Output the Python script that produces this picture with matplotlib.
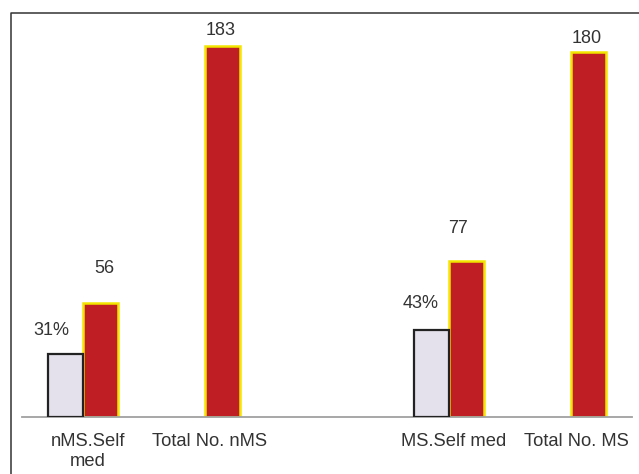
import numpy as np
import matplotlib
matplotlib.use("Agg")
import matplotlib.pyplot as plt
import matplotlib.transforms as mtransforms
from matplotlib.lines import Line2D

plt.rcParams['font.family'] = ['Liberation Sans', 'DejaVu Sans']

# categories along the x axis (the empty one is a spacer between the two groups)
categories = ["nMS.Self\nmed", "Total No. nMS", "", "MS.Self med", "Total No. MS"]
pct_self_med = [31, np.nan, np.nan, 43, np.nan]
counts = [56, 183, np.nan, 77, 180]

W, H = 639, 474
fig = plt.figure(figsize=(W / 100, H / 100), dpi=100)
ax = fig.add_axes([22 / W, (H - 416.7) / H, 610 / W, 404.7 / H])

x = np.arange(len(categories))
bw = 0.287

ax.bar(x + bw / 2, counts, bw, color='#be1e24', edgecolor='#f2e600',
       linewidth=1.8, zorder=2)
ax.bar(x - bw / 2, pct_self_med, bw, color='#e4e0ec', edgecolor='#222222',
       linewidth=1.6, zorder=3)

# value labels, nudged by hand (pixels)
txt = dict(ha='center', va='bottom', fontsize=13, color='#333333')
pct_off = {0: (-14, 15), 3: (-11, 18)}
cnt_off = {0: (4, 26), 1: (-2, 7), 3: (-9, 24), 4: (-2, 5)}
for i, v in enumerate(pct_self_med):
    if not np.isnan(v):
        dx, dy = pct_off[i]
        ax.annotate(f"{v:g}%", (x[i] - bw / 2, v), xytext=(dx * 0.72, dy * 0.72),
                    textcoords='offset points', **txt)
for i, v in enumerate(counts):
    if not np.isnan(v):
        dx, dy = cnt_off[i]
        ax.annotate(f"{v:g}", (x[i] + bw / 2, v), xytext=(dx * 0.72, dy * 0.72),
                    textcoords='offset points', **txt)

ax.set_xlim(-0.5, len(categories) - 0.5)
ax.set_ylim(0, 200)
ax.set_xticks(x)
ax.set_xticklabels(categories, fontsize=13.2, color='#333333', linespacing=1.2)
ax.tick_params(axis='x', length=0, pad=12)
# category labels sit a little right of the tick
shift = mtransforms.ScaledTranslation(5 / 100, 0, fig.dpi_scale_trans)
for lbl in ax.get_xticklabels():
    lbl.set_transform(lbl.get_transform() + shift)
ax.set_yticks([])
for s in ['top', 'right', 'left']:
    ax.spines[s].set_visible(False)
ax.spines['bottom'].set_color('#a0a0a0')
ax.spines['bottom'].set_linewidth(1.3)

# outer frame on the left and top
fx, fy = 10.5 / W, 1 - 12.5 / H
fig.add_artist(Line2D([fx, fx, 1.0], [0.0, fy, fy], color='#333333', lw=1.1,
                      transform=fig.transFigure))

fig.savefig("out.png", dpi=100)
